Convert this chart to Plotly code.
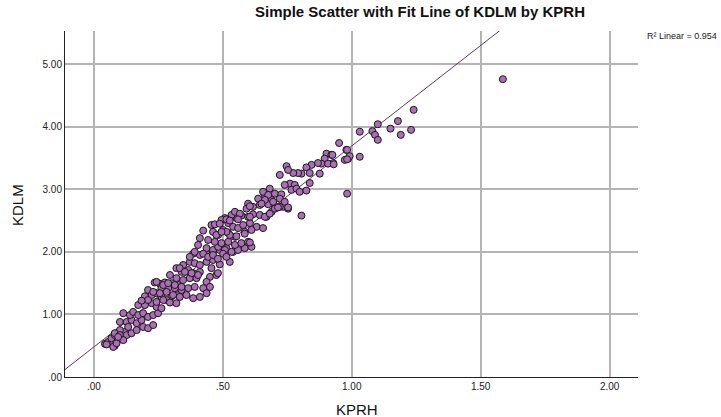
import numpy as np
import plotly.graph_objects as go

# ---- data (KPRH, KDLM) ----
kprh = [
    0.043, 0.055, 0.075, 0.081, 0.049, 0.075, 0.088, 0.068, 0.081, 0.107, 0.120, 0.101,
    0.081, 0.101, 0.127, 0.146, 0.114, 0.094,
    0.101, 0.127, 0.146, 0.166, 0.185, 0.133, 0.166, 0.191, 0.210, 0.230,
    0.114, 0.140, 0.152, 0.172, 0.191, 0.210, 0.230, 0.249,
    0.172, 0.198, 0.224, 0.243, 0.262,
    0.210, 0.198, 0.224, 0.243, 0.262, 0.301, 0.327, 0.282, 0.210, 0.185,
    0.236, 0.256, 0.275, 0.301, 0.327, 0.314, 0.288, 0.262, 0.340,
    0.243, 0.269, 0.295, 0.320,
    0.230, 0.256, 0.282, 0.307, 0.333, 0.359, 0.385, 0.411,
    0.424, 0.437,
    0.243, 0.269, 0.288, 0.314, 0.340, 0.366, 0.391,
    0.295, 0.320, 0.346, 0.372, 0.398,
    0.450, 0.475, 0.437, 0.450,
    0.320, 0.340, 0.366, 0.385, 0.411,
    0.346, 0.372, 0.391, 0.411, 0.437, 0.462, 0.488, 0.527,
    0.385, 0.411, 0.437, 0.462, 0.488, 0.514, 0.540,
    0.456, 0.481, 0.333, 0.353, 0.379, 0.404,
    0.437, 0.462, 0.482, 0.508, 0.534, 0.559, 0.585, 0.611,
    0.469, 0.495, 0.521, 0.547, 0.572, 0.598,
    0.456, 0.462, 0.482, 0.501, 0.521, 0.547,
    0.521, 0.540, 0.559, 0.579, 0.605, 0.631, 0.656, 0.585, 0.611,
    0.689, 0.669, 0.643, 0.617, 0.598, 0.572, 0.553, 0.534, 0.508, 0.495,
    0.547, 0.566,
    0.598, 0.617, 0.592,
    0.663, 0.669, 0.637, 0.689, 0.702, 0.734, 0.753,
    0.424, 0.404, 0.411, 0.443, 0.391, 0.372, 0.424, 0.443, 0.462, 0.481, 0.501, 0.514,
    0.605, 0.585, 0.553, 0.527, 0.514, 0.475, 0.495, 0.469, 0.488,
    0.514, 0.527, 0.559, 0.605, 0.663, 0.682, 0.605, 0.676, 0.643, 0.721, 0.702,
    0.979, 0.986, 0.973,
    0.902, 0.921, 0.895, 0.928, 0.908, 0.882, 0.869, 0.844, 0.824, 0.837, 0.876, 0.837,
    0.805, 0.792, 0.773, 0.747, 0.753, 0.721, 0.760, 0.779, 0.740, 0.766, 0.786, 0.798, 0.824,
    0.682, 0.656, 0.676, 0.702, 0.727, 0.663, 0.695, 0.721, 0.740, 0.714, 0.753, 0.650,
    0.805, 0.982,
    1.586, 1.240, 1.179, 1.101, 1.150, 1.230, 1.080, 1.031, 1.090, 1.190, 1.101,
    0.951, 0.982, 0.925, 0.992, 1.031, 0.982, 0.930,
]
kdlm = [
    0.53, 0.56, 0.54, 0.50, 0.52, 0.48, 0.54, 0.62, 0.67, 0.64, 0.72, 0.75,
    0.70, 0.67, 0.67, 0.70, 0.59, 0.64,
    0.88, 0.88, 0.91, 0.86, 0.91, 0.80, 0.75, 0.80, 0.78, 0.83,
    1.02, 0.99, 1.04, 0.99, 1.02, 0.96, 0.99, 1.02,
    1.15, 1.15, 1.18, 1.12, 1.10,
    1.39, 1.29, 1.31, 1.34, 1.28, 1.29, 1.31, 1.23, 1.23, 1.22,
    1.51, 1.49, 1.51, 1.50, 1.47, 1.42, 1.42, 1.42, 1.39,
    1.20, 1.23, 1.19, 1.18,
    1.36, 1.34, 1.36, 1.31, 1.28, 1.31, 1.26, 1.28,
    1.42, 1.34,
    1.52, 1.47, 1.50, 1.47, 1.44, 1.42, 1.44,
    1.63, 1.58, 1.55, 1.58, 1.58,
    1.60, 1.63, 1.52, 1.44,
    1.74, 1.68, 1.71, 1.66, 1.68,
    1.79, 1.84, 1.82, 1.79, 1.84, 1.87, 1.80, 1.84,
    1.97, 1.95, 1.97, 2.00, 2.03, 2.06, 2.00,
    1.74, 1.66, 1.74, 1.68, 1.66, 1.63,
    2.06, 2.03, 2.08, 2.03, 2.00, 2.03, 2.06, 2.08,
    2.16, 2.14, 2.16, 2.11, 2.14, 2.16,
    2.43, 2.32, 2.27, 2.35, 2.30, 2.24,
    2.46, 2.40, 2.38, 2.43, 2.46, 2.40, 2.38, 2.32, 2.35,
    2.64, 2.56, 2.59, 2.60, 2.56, 2.58, 2.54, 2.59, 2.54, 2.51,
    2.64, 2.61,
    2.77, 2.72, 2.69,
    2.91, 2.80, 2.85, 2.83, 2.72, 2.72, 2.69,
    2.34, 2.11, 2.22, 2.19, 2.00, 1.92, 1.97, 1.92, 1.95, 1.89, 1.97, 1.92,
    2.15, 2.29, 2.25, 2.27, 2.32, 2.27, 2.32, 2.44, 2.45,
    2.52, 2.50, 2.52, 2.56, 2.56, 2.61, 2.73, 2.76, 2.75, 2.72, 2.69,
    3.63, 3.49, 3.47,
    3.57, 3.55, 3.49, 3.42, 3.41, 3.41, 3.42, 3.39, 3.35, 3.26, 3.25, 3.10,
    3.25, 3.26, 3.26, 3.37, 3.31, 3.23, 3.09, 3.07, 3.07, 2.99, 3.01, 2.96, 2.98,
    3.01, 2.96, 2.91, 2.93, 2.92, 2.83, 2.80, 2.85, 2.80, 2.71, 2.71, 2.77,
    2.58, 2.93,
    4.76, 4.27, 4.09, 4.04, 3.97, 3.95, 3.93, 3.92, 3.87, 3.87, 3.79,
    3.74, 3.63, 3.55, 3.53, 3.52, 3.48, 3.40,
]

x_ticks = [0.0, 0.5, 1.0, 1.5, 2.0]
x_tick_labels = [".00", ".50", "1.00", "1.50", "2.00"]
y_ticks = [0, 1, 2, 3, 4, 5]
y_tick_labels = [".00", "1.00", "2.00", "3.00", "4.00", "5.00"]
x_range = [-0.112, 2.11]
y_range = [0, 5.53]
r2_text = "R² Linear = 0.954"

# ---- linear fit from the data ----
slope, intercept = np.polyfit(np.array(kprh), np.array(kdlm), 1)
fit_x = np.array(x_range)
fit_y = intercept + slope * fit_x

W, H = 721, 417
L, R, T, B = 65, 83, 31, 40
PW, PH = W - L - R, H - T - B

fig = go.Figure()
fig.add_trace(go.Scatter(
    x=fit_x, y=fit_y, mode="lines",
    line=dict(color="#5b3d5e", width=1),
    hoverinfo="skip", showlegend=False,
))
fig.add_trace(go.Scatter(
    x=kprh, y=kdlm, mode="markers",
    marker=dict(size=7, color="#a872b2", line=dict(color="#1e141e", width=1)),
    showlegend=False,
))

fig.update_layout(
    width=W, height=H,
    margin=dict(l=L, r=R, t=T, b=B, autoexpand=False),
    paper_bgcolor="white", plot_bgcolor="white",
    font=dict(family="Liberation Sans, Arial, sans-serif", color="#222222"),
    title=dict(
        text="<b>Simple Scatter with Fit Line of KDLM by KPRH</b>",
        x=420 / W, xanchor="center", xref="container",
        y=1 - 12 / H, yanchor="middle", yref="container",
        font=dict(size=15, color="#111111"),
    ),
    xaxis=dict(
        range=x_range, tickvals=x_ticks, ticktext=x_tick_labels,
        showgrid=True, gridcolor="#b4b4b4", gridwidth=1.5,
        showline=True, linecolor="#222222", linewidth=1,
        zeroline=False, ticks="", tickfont=dict(size=10),
        automargin=False,
    ),
    yaxis=dict(
        range=y_range, tickvals=y_ticks, ticktext=y_tick_labels,
        showgrid=True, gridcolor="#b4b4b4", gridwidth=1.5,
        showline=True, linecolor="#222222", linewidth=1,
        zeroline=False, ticks="", tickfont=dict(size=10),
        automargin=False,
    ),
    annotations=[
        dict(text=r2_text, xref="paper", yref="paper",
             x=1 + (719 - (W - R)) / PW, y=1 - 5 / PH,
             xanchor="right", yanchor="middle",
             showarrow=False, font=dict(size=9, color="#222222")),
        dict(text="KDLM", xref="paper", yref="paper",
             x=(17 - L) / PW, y=(H - B - 205) / PH, textangle=-90,
             xanchor="center", yanchor="middle",
             showarrow=False, font=dict(size=15, color="#111111")),
        dict(text="KPRH", xref="paper", yref="paper",
             x=(357 - L) / PW, y=-(409 - (H - B)) / PH,
             xanchor="center", yanchor="middle",
             showarrow=False, font=dict(size=15, color="#111111")),
    ],
)

fig.write_html(
    "out.html",
    config={"displayModeBar": False},
    post_script="document.body.style.margin='0';document.body.style.overflow='hidden';",
)
